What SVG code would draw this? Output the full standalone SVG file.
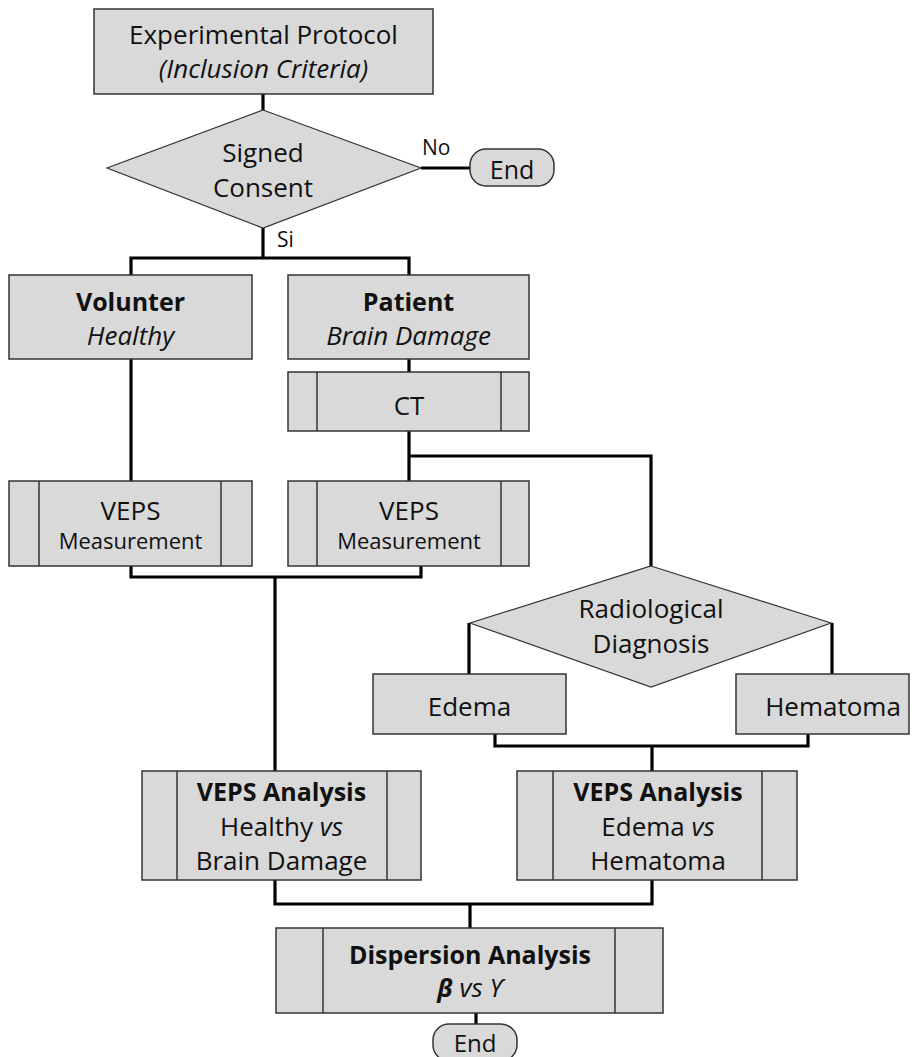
<svg xmlns="http://www.w3.org/2000/svg" width="918" height="1057" viewBox="0 0 918 1057">
<style>
.box{fill:#d9d9d9;stroke:#333;stroke-width:1.5}
.dia{fill:#d9d9d9;stroke:#333;stroke-width:1.2}
.sep{stroke:#333;stroke-width:1.5;fill:none}
.con{stroke:#000;stroke-width:3.2;fill:none;stroke-linejoin:miter}
text{font-family:"Open Sans","Noto Sans","Liberation Sans",sans-serif;font-size:26px;fill:#111;text-anchor:middle}
.b{font-weight:bold;font-size:25px}
.i{font-style:italic}
.sm{font-size:22px}
.lbl{font-size:21px;text-anchor:start}
</style>
<rect width="918" height="1057" fill="#fff"/>
<g id="connectors">
<path class="con" d="M263,94V110"/>
<path class="con" d="M421,168H470"/>
<path class="con" d="M263,228V258M131,275V258H409V275"/>
<path class="con" d="M409,359V372M409,431V481M409,456H651V566"/>
<path class="con" d="M131,359V481"/>
<path class="con" d="M131,566V577H421V566M275,577V771"/>
<path class="con" d="M469,623V674M832,623V674"/>
<path class="con" d="M495,734V746H808V734M652,746V771"/>
<path class="con" d="M275,880V904H652V880M470,904V928"/>
<path class="con" d="M476,1013V1024"/>
<text class="lbl" x="422" y="155">No</text>
<text class="lbl" x="277" y="247">Si</text>
</g>
<g id="protocol">
<rect class="box" x="94" y="9" width="339" height="85"/>
<text x="263.5" y="44">Experimental Protocol</text>
<text x="263.5" y="78" class="i">(Inclusion Criteria)</text>
</g>
<g id="consent">
<polygon class="dia" points="263,110 421,168 263,228 107,168"/>
<text x="263" y="162">Signed</text>
<text x="263" y="197">Consent</text>
</g>
<g id="end1">
<rect class="box" x="470" y="149" width="84" height="37" rx="16"/>
<text x="512" y="179" style="font-size:25px">End</text>
</g>
<g id="volunter">
<rect class="box" x="9" y="275" width="243" height="84"/>
<text x="130.5" y="311" class="b">Volunter</text>
<text x="130.5" y="345" class="i">Healthy</text>
</g>
<g id="patient">
<rect class="box" x="288" y="275" width="241" height="84"/>
<text x="408.5" y="311" class="b">Patient</text>
<text x="408.5" y="345" class="i">Brain Damage</text>
</g>
<g id="ct">
<rect class="box" x="288" y="372" width="241" height="59"/>
<path class="sep" d="M317,372V431M501,372V431"/>
<text x="409" y="415">CT</text>
</g>
<g id="veps1">
<rect class="box" x="9" y="481" width="243" height="85"/>
<path class="sep" d="M39,481V566M221,481V566"/>
<text x="130.5" y="520">VEPS</text>
<text x="130.5" y="549" class="sm">Measurement</text>
</g>
<g id="veps2">
<rect class="box" x="288" y="481" width="241" height="85"/>
<path class="sep" d="M317,481V566M501,481V566"/>
<text x="409" y="520">VEPS</text>
<text x="409" y="549" class="sm">Measurement</text>
</g>
<g id="radiological">
<polygon class="dia" points="651,566 831,623 651,687 470,623"/>
<text x="651" y="618">Radiological</text>
<text x="651" y="653">Diagnosis</text>
</g>
<g id="edema">
<rect class="box" x="373" y="674" width="193" height="60"/>
<text x="469.5" y="716">Edema</text>
</g>
<g id="hematoma">
<rect class="box" x="736" y="674" width="173" height="60"/>
<text x="833" y="716">Hematoma</text>
</g>
<g id="analysis1">
<rect class="box" x="142" y="771" width="279" height="109"/>
<path class="sep" d="M177,771V880M387,771V880"/>
<text x="281.5" y="801" class="b">VEPS Analysis</text>
<text x="281.5" y="836">Healthy <tspan class="i">vs</tspan></text>
<text x="281.5" y="870">Brain Damage</text>
</g>
<g id="analysis2">
<rect class="box" x="517" y="771" width="280" height="109"/>
<path class="sep" d="M553,771V880M762,771V880"/>
<text x="658" y="801" class="b">VEPS Analysis</text>
<text x="658" y="836">Edema <tspan class="i">vs</tspan></text>
<text x="658" y="870">Hematoma</text>
</g>
<g id="dispersion">
<rect class="box" x="276" y="928" width="387" height="85"/>
<path class="sep" d="M323,928V1013M615,928V1013"/>
<text x="470" y="964" class="b">Dispersion Analysis</text>
<text x="470" y="997" class="i"><tspan class="b">β</tspan> vs ϒ</text>
</g>
<g id="end2">
<rect class="box" x="433" y="1024" width="84" height="37" rx="16"/>
<text x="475" y="1052" style="font-size:24px">End</text>
</g>
</svg>
